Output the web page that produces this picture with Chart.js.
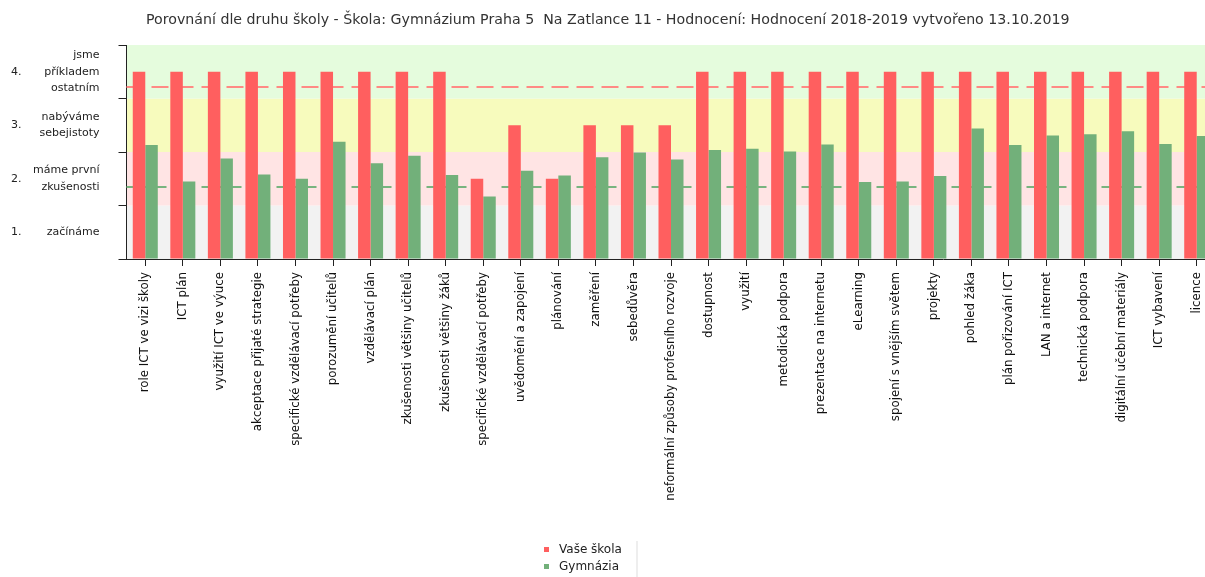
<!DOCTYPE html>
<html>
<head>
<meta charset="utf-8">
<script src="https://cdn.jsdelivr.net/npm/chart.js@4/dist/chart.umd.min.js"></script>
<style>
  html, body { margin: 0; padding: 0; background: #fff; overflow: hidden; width: 1205px; height: 577px; }
  #wrap { position: relative; width: 1225px; height: 577px; }
  #legend { position: absolute; left: 536px; top: 541px; width: 100px; height: 36px;
            border-right: 2px solid #eeeeee; font-family: "DejaVu Sans", sans-serif; font-size: 12px; color: #222; }
  .li { position: absolute; left: 8px; height: 17px; line-height: 17px; white-space: nowrap; }
  .sw { position: absolute; left: 0; top: 6px; width: 5px; height: 5px; }
  .lt { position: absolute; left: 15px; top: 0; }
</style>
</head>
<body>
<div id="wrap">
  <canvas id="c" width="1225" height="577"></canvas>
  <div id="legend"></div>
</div>
<script>
// ---- data ----
const chartTitle = 'Porovnání dle druhu školy - Škola: Gymnázium Praha 5  Na Zatlance 11 - Hodnocení: Hodnocení 2018-2019 vytvořeno 13.10.2019';
const categories = [
  'role ICT ve vizi školy', 'ICT plán', 'využití ICT ve výuce', 'akceptace přijaté strategie',
  'specifické vzdělávací potřeby', 'porozumění učitelů', 'vzdělávací plán', 'zkušenosti většiny učitelů',
  'zkušenosti většiny žáků', 'specifické vzdělávací potřeby', 'uvědomění a zapojení', 'plánování',
  'zaměření', 'sebedůvěra', 'neformální způsoby profesního rozvoje', 'dostupnost', 'využití',
  'metodická podpora', 'prezentace na internetu', 'eLearning', 'spojení s vnějším světem',
  'projekty', 'pohled žáka', 'plán pořizování ICT', 'LAN a internet', 'technická podpora',
  'digitální učební materiály', 'ICT vybavení', 'licence'
];
const seriesNames = ['Vaše škola', 'Gymnázia'];
const skolaValues = [
  3.5, 3.5, 3.5, 3.5, 3.5, 3.5, 3.5, 3.5, 3.5, 1.5, 2.5, 1.5, 2.5, 2.5, 2.5,
  3.5, 3.5, 3.5, 3.5, 3.5, 3.5, 3.5, 3.5, 3.5, 3.5, 3.5, 3.5, 3.5, 3.5
];
const gymnaziaValues = [
  2.13, 1.45, 1.88, 1.58, 1.50, 2.19, 1.79, 1.93, 1.57, 1.17, 1.65, 1.56, 1.90, 1.99, 1.86,
  2.04, 2.06, 2.01, 2.14, 1.44, 1.45, 1.55, 2.44, 2.13, 2.31, 2.33, 2.39, 2.15, 2.30
];
const skolaLineValue = 3.22;
const gymnaziaLineValue = 1.35;
const levelValues = [0.5, 1.5, 2.5, 3.5];
const levelNumbers = ['1.', '2.', '3.', '4.'];
const levelTexts = [
  ['začínáme'],
  ['máme první', 'zkušenosti'],
  ['nabýváme', 'sebejistoty'],
  ['jsme', 'příkladem', 'ostatním']
];
const bandEdges = [0, 1, 2, 3, 4];

// ---- styles ----
const FONT = '"DejaVu Sans", sans-serif';
const colors = { skola: '#ff5f5f', gym: '#72b07a', skolaLine: '#ff8a84', gymLine: '#78b47f' };
const bandColors = ['#f2f2f2', '#ffe4e4', '#f7fbbd', '#e5fcdd'];

const bandsPlugin = {
  id: 'bands',
  beforeDraw(chart) {
    const { ctx, chartArea } = chart;
    const y = chart.scales.y;
    ctx.save();
    for (let i = 0; i < bandEdges.length - 1; i++) {
      const top = y.getPixelForValue(bandEdges[i + 1]);
      const bot = y.getPixelForValue(bandEdges[i]);
      ctx.fillStyle = bandColors[i];
      ctx.fillRect(chartArea.left, top, chartArea.right - chartArea.left, bot - top);
    }
    ctx.restore();
  },
  beforeDatasetsDraw(chart) {
    const { ctx, chartArea } = chart;
    const y = chart.scales.y;
    const lines = [
      { v: skolaLineValue, c: colors.skolaLine, d: [17, 8] },
      { v: gymnaziaLineValue, c: colors.gymLine, d: [40, 35] }
    ];
    ctx.save();
    ctx.lineWidth = 2;
    lines.forEach(l => {
      const py = Math.round(y.getPixelForValue(l.v));
      ctx.strokeStyle = l.c;
      ctx.setLineDash(l.d);
      ctx.beginPath();
      ctx.moveTo(chartArea.left, py);
      ctx.lineTo(chartArea.right, py);
      ctx.stroke();
    });
    ctx.restore();
  },
  afterDraw(chart) {
    const { ctx } = chart;
    const y = chart.scales.y;
    ctx.save();
    ctx.font = '11px ' + FONT;
    ctx.fillStyle = '#222';
    ctx.textAlign = 'left';
    ctx.textBaseline = 'middle';
    levelValues.forEach((v, i) => {
      ctx.fillText(levelNumbers[i], 11, y.getPixelForValue(v));
    });
    ctx.restore();
  }
};

new Chart(document.getElementById('c'), {
  type: 'bar',
  data: {
    labels: categories,
    datasets: [
      { label: seriesNames[0], data: skolaValues, backgroundColor: colors.skola, borderWidth: 0 },
      { label: seriesNames[1], data: gymnaziaValues, backgroundColor: colors.gym, borderWidth: 0 }
    ]
  },
  options: {
    responsive: false,
    animation: false,
    devicePixelRatio: 1,
    layout: { padding: { left: 0, right: 9.5, top: 0, bottom: 0 } },
    datasets: { bar: { barPercentage: 1.0, categoryPercentage: 0.666 } },
    plugins: {
      legend: { display: false },
      tooltip: { enabled: false },
      title: {
        display: true, text: chartTitle, color: '#333',
        font: { family: FONT, size: 14.2, weight: 'normal', lineHeight: 1.2 },
        padding: { top: 12, bottom: 16 }
      }
    },
    scales: {
      x: {
        offset: true,
        grid: { display: true, drawOnChartArea: false, offset: false, tickLength: 7, color: '#222', tickColor: '#222' },
        border: { display: true, color: '#222', width: 1 },
        ticks: {
          autoSkip: false, minRotation: 90, maxRotation: 90, padding: 6,
          color: '#111', font: { family: FONT, size: 11.8 }
        },
        afterFit(scale) { scale.height = 577 - 259; }
      },
      y: {
        min: 0, max: 4,
        grid: {
          display: true, drawOnChartArea: false, tickLength: 8,
          tickColor: (ctx) => (ctx.tick && Math.abs(ctx.tick.value % 1) < 1e-6) ? '#222' : 'rgba(0,0,0,0)'
        },
        border: { display: true, color: '#222', width: 1 },
        ticks: {
          autoSkip: false, stepSize: 0.5, padding: 19,
          color: '#222', font: { family: FONT, size: 11, lineHeight: 1.5 },
          callback: (v) => {
            const i = levelValues.findIndex(lv => Math.abs(lv - v) < 1e-6);
            return i >= 0 ? levelTexts[i] : '';
          }
        },
        afterFit(scale) { scale.width = 126.5; }
      }
    }
  },
  plugins: [bandsPlugin]
});

// HTML legend built from the series names
const legendEl = document.getElementById('legend');
[colors.skola, colors.gym].forEach((c, i) => {
  const item = document.createElement('div');
  item.className = 'li';
  item.style.top = (i * 17) + 'px';
  item.innerHTML = '<span class="sw" style="background:' + c + '"></span><span class="lt"></span>';
  item.querySelector('.lt').textContent = seriesNames[i];
  legendEl.appendChild(item);
});
</script>
</body>
</html>
